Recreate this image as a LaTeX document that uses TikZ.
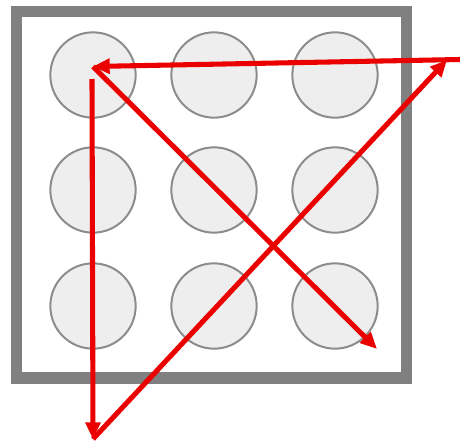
\documentclass[tikz,border=0pt]{standalone}
\usetikzlibrary{arrows.meta}

\definecolor{framegray}{RGB}{128,128,128}
\definecolor{dotgray}{RGB}{140,140,140}
\definecolor{dotfill}{RGB}{238,238,238}
\definecolor{strokered}{RGB}{235,0,0}

\tikzset{
  dot/.style={circle,draw=dotgray,fill=dotfill,line width=1.5pt,minimum size=64pt,inner sep=0pt},
  stroke/.style={draw=strokered,line width=3.8pt,-{Triangle[length=12.5pt,width=11pt]}}
}

\begin{document}
\begin{tikzpicture}[x=0.75pt,y=-0.75pt]
      \useasboundingbox (0,0) rectangle (460,443);

      % frame
      \draw[framegray,line width=8.3pt] (16.5,11.5) rectangle (406.5,378);

      % dots
      \foreach \r/\y in {1/75,2/190,3/306}
        \foreach \c/\x in {1/93,2/214,3/335}
          \node[dot] (d\r\c) at (\x,\y) {};

      % pattern points
      \coordinate (start) at (92,79);
      \coordinate (low) at (93,439);
      \coordinate (tr) at (447,60);
      \coordinate (far) at (460,59.5);
      \coordinate (tl) at (93,66.5);
      \coordinate (br) at (377,349);

      \draw[stroke] (start) -- (low);
      \draw[stroke] (low) -- (tr);
      \draw[stroke] (far) -- (tl);
      \draw[stroke] (tl) -- (br);
\end{tikzpicture}
\end{document}
